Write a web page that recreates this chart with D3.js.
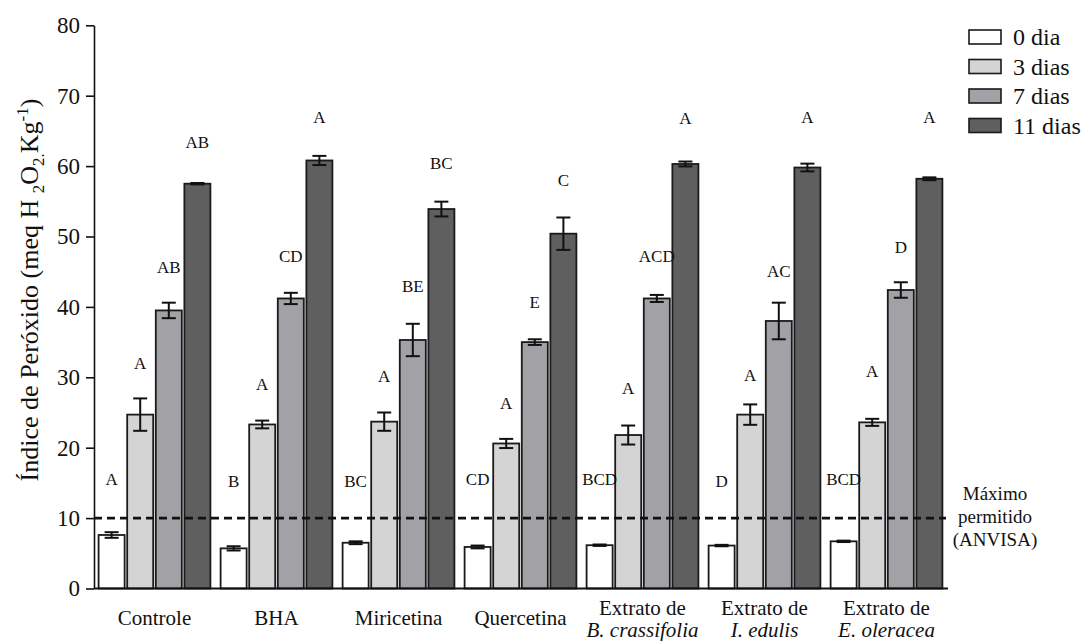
<!DOCTYPE html>
<html>
<head>
<meta charset="utf-8">
<script src="https://cdn.jsdelivr.net/npm/d3@7"></script>
<style>
  html, body { margin: 0; padding: 0; background: #fff; }
  svg { display: block; }
  svg text { font-family: "Liberation Serif", "Tinos", "Times New Roman", Times, "Nimbus Roman", "DejaVu Serif", serif; }
</style>
</head>
<body>
<svg id="chart" width="1089" height="641"></svg>
<script>
// Treatments (x groups); second line of the label is italic species name
const groups = ["Controle", "BHA", "Miricetina", "Quercetina", "Extrato de B. crassifolia", "Extrato de I. edulis", "Extrato de E. oleracea"];
const labelLine1 = ["Controle", "BHA", "Miricetina", "Quercetina", "Extrato de", "Extrato de", "Extrato de"];
const labelLine2 = ["", "", "", "", "B. crassifolia", "I. edulis", "E. oleracea"];

// Storage times
const series = ["0 dia", "3 dias", "7 dias", "11 dias"];

// Peroxide index means (meq H2O2/kg) and errors, per storage time
const day0  = [7.6, 5.7, 6.5, 5.9, 6.15, 6.1, 6.7];
const day3  = [24.7, 23.3, 23.7, 20.6, 21.8, 24.7, 23.6];
const day7  = [39.5, 41.2, 35.3, 35.0, 41.2, 38.0, 42.4];
const day11 = [57.5, 60.8, 53.9, 50.4, 60.3, 59.8, 58.2];

const err0  = [0.4, 0.3, 0.2, 0.2, 0.1, 0.1, 0.1];
const err3  = [2.3, 0.55, 1.3, 0.65, 1.35, 1.45, 0.5];
const err7  = [1.1, 0.8, 2.3, 0.4, 0.5, 2.6, 1.1];
const err11 = [0.1, 0.65, 1.05, 2.3, 0.35, 0.55, 0.2];

// Significance letters and the level (in axis units) where each is written
const letters0  = ["A", "B", "BC", "CD", "BCD", "D", "BCD"];
const letters3  = ["A", "A", "A", "A", "A", "A", "A"];
const letters7  = ["AB", "CD", "BE", "E", "ACD", "AC", "D"];
const letters11 = ["AB", "A", "BC", "C", "A", "A", "A"];
const letterAt0  = [15.5, 15.3, 15.3, 15.6, 15.6, 15.3, 15.6];
const letterAt3  = [32.1, 29.0, 30.2, 26.3, 28.5, 30.3, 30.9];
const letterAt7  = [45.6, 47.3, 42.9, 40.7, 47.2, 45.1, 48.5];
const letterAt11 = [63.4, 67.0, 60.5, 58.0, 66.8, 67.0, 67.0];

// Regulatory limit
const limitValue = 10;
const limitLabel = ["Máximo", "permitido", "(ANVISA)"];

const yTicks = [0, 10, 20, 30, 40, 50, 60, 70, 80];

const values  = [day0, day3, day7, day11];
const errors  = [err0, err3, err7, err11];
const letters = [letters0, letters3, letters7, letters11];
const letterAt = [letterAt0, letterAt3, letterAt7, letterAt11];
const fills = ["#ffffff", "#d4d4d4", "#a2a1a6", "#5f5f5f"];

const svg = d3.select("#chart");
const axisX = 94, axisBottom = 588.5, axisTop = 25.3;

const y = d3.scaleLinear().domain([0, 80]).range([axisBottom, axisTop]);
const x0 = d3.scaleBand().domain(groups).range([axisX - 0.5, axisX - 0.5 + 854])
  .paddingInner(0.0836).paddingOuter(0.0418);
const x1 = d3.scaleBand().domain(series).range([0, x0.bandwidth()]).paddingInner(0.09);

// flatten rows
const rows = [];
groups.forEach((g, gi) => {
  series.forEach((s, si) => {
    rows.push({ g, s, si, v: values[si][gi], e: errors[si][gi], lab: letters[si][gi], at: letterAt[si][gi] });
  });
});

// Bars
svg.append("g").selectAll("rect").data(rows).join("rect")
  .attr("x", d => x0(d.g) + x1(d.s))
  .attr("y", d => y(d.v))
  .attr("width", x1.bandwidth())
  .attr("height", d => y(0) - y(d.v))
  .attr("fill", d => fills[d.si])
  .attr("stroke", "#1a1a1a")
  .attr("stroke-width", 1.8);

// Error bars
const eb = svg.append("g").attr("stroke", "#111").attr("stroke-width", 2);
rows.forEach(d => {
  const cx = x0(d.g) + x1(d.s) + x1.bandwidth() / 2;
  const cap = 7;
  eb.append("line").attr("x1", cx).attr("x2", cx).attr("y1", y(d.v + d.e)).attr("y2", y(d.v - d.e));
  eb.append("line").attr("x1", cx - cap).attr("x2", cx + cap).attr("y1", y(d.v + d.e)).attr("y2", y(d.v + d.e));
  eb.append("line").attr("x1", cx - cap).attr("x2", cx + cap).attr("y1", y(d.v - d.e)).attr("y2", y(d.v - d.e));
});

// Significance letters
svg.append("g").selectAll("text").data(rows).join("text")
  .attr("x", d => x0(d.g) + x1(d.s) + x1.bandwidth() / 2)
  .attr("y", d => y(d.at) + 6)
  .attr("text-anchor", "middle")
  .attr("font-size", 17)
  .attr("fill", "#111")
  .text(d => d.lab);

// Limit line
svg.append("line")
  .attr("x1", axisX).attr("x2", 946)
  .attr("y1", y(limitValue)).attr("y2", y(limitValue))
  .attr("stroke", "#111").attr("stroke-width", 2.6)
  .attr("stroke-dasharray", "8,5");

svg.append("g").selectAll("text").data(limitLabel).join("text")
  .attr("x", 995)
  .attr("y", (d, i) => y(limitValue) - 24 + i * 23 + 6)
  .attr("text-anchor", "middle")
  .attr("font-size", 19)
  .attr("fill", "#111")
  .text(d => d);

// Y axis
const yAxis = svg.append("g")
  .attr("transform", `translate(${axisX},0)`)
  .call(d3.axisLeft(y).tickValues(yTicks).tickSize(8).tickSizeOuter(0).tickPadding(6));
yAxis.attr("font-family", null);
yAxis.selectAll("text").attr("font-size", 23).attr("fill", "#111");
yAxis.selectAll("line, path").attr("stroke", "#111").attr("stroke-width", 1.6);

// X axis baseline
svg.append("line")
  .attr("x1", axisX).attr("x2", 948)
  .attr("y1", y(0)).attr("y2", y(0))
  .attr("stroke", "#111").attr("stroke-width", 1.8);

// X labels
const xl = svg.append("g").attr("font-size", 21).attr("fill", "#111").attr("text-anchor", "middle");
groups.forEach((g, gi) => {
  const cx = x0(g) + x0.bandwidth() / 2;
  if (labelLine2[gi]) {
    xl.append("text").attr("x", cx).attr("y", 615).text(labelLine1[gi]);
    xl.append("text").attr("x", cx).attr("y", 637).attr("font-style", "italic").text(labelLine2[gi]);
  } else {
    xl.append("text").attr("x", cx).attr("y", 625).text(labelLine1[gi]);
  }
});

// Y title with sub/superscripts
const yt = svg.append("text")
  .attr("transform", `translate(38,290) rotate(-90)`)
  .attr("text-anchor", "middle")
  .attr("font-size", 26)
  .attr("fill", "#111");
yt.append("tspan").text("Índice de Peróxido (meq H ");
yt.append("tspan").attr("font-size", 17).attr("dy", 6).text("2");
yt.append("tspan").attr("dy", -6).text("O");
yt.append("tspan").attr("font-size", 17).attr("dy", 6).text("2.");
yt.append("tspan").attr("dy", -6).text("Kg");
yt.append("tspan").attr("font-size", 17).attr("dy", -10).text("-1");
yt.append("tspan").attr("dy", 10).text(")");

// Legend
const lg = svg.append("g");
series.forEach((s, i) => {
  const cy = 37 + i * 29.5;
  lg.append("rect").attr("x", 969).attr("y", cy - 7).attr("width", 32).attr("height", 14)
    .attr("fill", fills[i]).attr("stroke", "#1a1a1a").attr("stroke-width", 1.6);
  lg.append("text").attr("x", 1013).attr("y", cy + 8).attr("font-size", 24).attr("fill", "#111").text(s);
});
</script>
</body>
</html>
